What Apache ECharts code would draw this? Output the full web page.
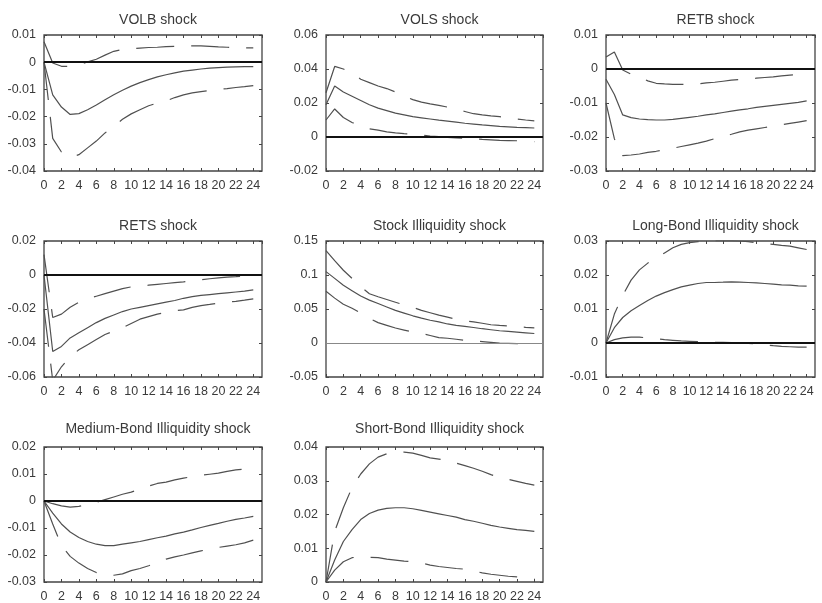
<!DOCTYPE html>
<html>
<head>
<meta charset="utf-8">
<script src="https://cdn.jsdelivr.net/npm/echarts@6/dist/echarts.min.js"></script>
<style>
  html, body { margin: 0; padding: 0; background: #fff; }
  #chart { width: 822px; height: 603px; }
</style>
</head>
<body>
<div id="chart"></div>
<script>
// Impulse responses over 24 periods: point estimate (mid) with lower/upper bands.
const horizons = [0,1,2,3,4,5,6,7,8,9,10,11,12,13,14,15,16,17,18,19,20,21,22,23,24];

const panelTitles = [
  'VOLB shock', 'VOLS shock', 'RETB shock',
  'RETS shock', 'Stock Illiquidity shock', 'Long-Bond Illiquidity shock',
  'Medium-Bond Illiquidity shock', 'Short-Bond Illiquidity shock'
];

// VOLB shock
const volbMid = [0, -0.012, -0.0165, -0.0192, -0.0189, -0.0175, -0.0157, -0.0138, -0.012, -0.0103, -0.0088, -0.0075, -0.0064, -0.0054, -0.0046, -0.0039, -0.0033, -0.0029, -0.0025, -0.0022, -0.002, -0.0018, -0.0017, -0.0016, -0.0016];
const volbHi  = [0.0075, -0.0003, -0.0015, -0.0015, -0.0009, 0.0001, 0.0011, 0.0026, 0.004, 0.0047, 0.005, 0.0052, 0.0054, 0.0055, 0.0057, 0.0058, 0.0059, 0.006, 0.006, 0.0058, 0.0056, 0.0055, 0.0054, 0.0053, 0.0053];
const volbLo  = [0, -0.028, -0.033, -0.035, -0.034, -0.0315, -0.029, -0.026, -0.0235, -0.021, -0.019, -0.0175, -0.016, -0.015, -0.0142, -0.013, -0.012, -0.0113, -0.0108, -0.0104, -0.010, -0.0097, -0.0093, -0.009, -0.0086];

// VOLS shock
const volsMid = [0.019, 0.030, 0.0265, 0.024, 0.0215, 0.019, 0.017, 0.0155, 0.014, 0.013, 0.012, 0.0113, 0.0106, 0.0099, 0.0093, 0.0087, 0.0081, 0.0076, 0.0071, 0.0067, 0.0063, 0.006, 0.0057, 0.0055, 0.0053];
const volsHi  = [0.026, 0.0415, 0.040, 0.0375, 0.034, 0.032, 0.030, 0.0285, 0.0265, 0.024, 0.022, 0.0205, 0.0195, 0.0186, 0.0176, 0.0163, 0.015, 0.0137, 0.013, 0.0124, 0.012, 0.0113, 0.0106, 0.010, 0.0095];
const volsLo  = [0.010, 0.0165, 0.0115, 0.0085, 0.0065, 0.0048, 0.004, 0.003, 0.0024, 0.002, 0.0017, 0.0012, 0.0006, 0.0002, -0.0002, -0.0005, -0.0007, -0.001, -0.0014, -0.0017, -0.002, -0.0021, -0.0022, -0.0025, -0.0027];

// RETB shock
const retbMid = [-0.003, -0.0075, -0.0135, -0.0143, -0.0147, -0.0149, -0.015, -0.015, -0.0148, -0.0145, -0.0142, -0.0139, -0.0135, -0.0132, -0.0128, -0.0124, -0.012, -0.0117, -0.0113, -0.011, -0.0107, -0.0104, -0.0101, -0.0098, -0.0094];
const retbHi  = [0.0035, 0.005, -0.0003, -0.0015, -0.0024, -0.0035, -0.0042, -0.0044, -0.0045, -0.0045, -0.0045, -0.0044, -0.0041, -0.0039, -0.0036, -0.0033, -0.0031, -0.0029, -0.0027, -0.0025, -0.0023, -0.002, -0.0018, -0.0016, -0.0012];
const retbLo  = [-0.010, -0.0205, -0.0255, -0.0253, -0.025, -0.0245, -0.0242, -0.0238, -0.0233, -0.0228, -0.0223, -0.0218, -0.0212, -0.0205, -0.0198, -0.0192, -0.0185, -0.018, -0.0176, -0.0172, -0.0168, -0.0164, -0.016, -0.0156, -0.0152];

// RETS shock
const retsMid = [0, -0.045, -0.042, -0.037, -0.034, -0.031, -0.028, -0.0255, -0.0235, -0.0215, -0.020, -0.019, -0.018, -0.017, -0.016, -0.015, -0.0137, -0.0127, -0.012, -0.0115, -0.011, -0.0105, -0.010, -0.0095, -0.0088];
const retsHi  = [0.012, -0.025, -0.023, -0.019, -0.016, -0.014, -0.0125, -0.011, -0.0095, -0.008, -0.007, -0.0065, -0.006, -0.0055, -0.005, -0.0045, -0.004, -0.0034, -0.0028, -0.0022, -0.0017, -0.0013, -0.001, -0.0006, -0.0003];
const retsLo  = [-0.02, -0.062, -0.054, -0.048, -0.044, -0.041, -0.038, -0.035, -0.033, -0.031, -0.0285, -0.026, -0.0245, -0.023, -0.022, -0.021, -0.0205, -0.019, -0.018, -0.0173, -0.0165, -0.016, -0.0155, -0.0148, -0.014];

// Stock illiquidity shock
const stockMid = [0.105, 0.095, 0.085, 0.077, 0.069, 0.063, 0.058, 0.053, 0.048, 0.044, 0.040, 0.0365, 0.0335, 0.031, 0.028, 0.026, 0.0245, 0.0228, 0.021, 0.0195, 0.018, 0.017, 0.016, 0.015, 0.014];
const stockHi  = [0.136, 0.121, 0.107, 0.095, 0.083, 0.0725, 0.068, 0.064, 0.060, 0.056, 0.0525, 0.048, 0.0445, 0.041, 0.038, 0.035, 0.0325, 0.031, 0.029, 0.0268, 0.0258, 0.025, 0.024, 0.023, 0.0222];
const stockLo  = [0.076, 0.066, 0.057, 0.051, 0.044, 0.036, 0.030, 0.026, 0.022, 0.019, 0.016, 0.014, 0.011, 0.008, 0.007, 0.0055, 0.004, 0.003, 0.002, 0.001, 0.0, -0.0005, -0.001, -0.0015, -0.002];

// Long-bond illiquidity shock
const longMid = [0, 0.0045, 0.0075, 0.0095, 0.011, 0.0125, 0.0138, 0.0148, 0.0157, 0.0165, 0.017, 0.0175, 0.0178, 0.0178, 0.0179, 0.018, 0.0179, 0.0178, 0.0177, 0.0175, 0.0173, 0.0171, 0.017, 0.0168, 0.0167];
const longHi  = [0, 0.0085, 0.014, 0.0185, 0.0215, 0.0235, 0.025, 0.0265, 0.028, 0.029, 0.0295, 0.0298, 0.030, 0.0301, 0.0301, 0.0301, 0.030, 0.0298, 0.0295, 0.0292, 0.029, 0.0287, 0.0285, 0.028, 0.0275];
const longLo  = [0, 0.001, 0.0015, 0.0017, 0.0017, 0.0015, 0.0013, 0.001, 0.0008, 0.0006, 0.0005, 0.0004, 0.0003, 0.0002, 0.0002, 0.0001, 0, -0.0001, -0.0002, -0.0005, -0.0008, -0.001, -0.0011, -0.0012, -0.0012];

// Medium-bond illiquidity shock
const mediumMid = [0, -0.0045, -0.0085, -0.0115, -0.0135, -0.015, -0.016, -0.0165, -0.0165, -0.016, -0.0155, -0.015, -0.0143, -0.0136, -0.013, -0.0122, -0.0115, -0.0107, -0.0098, -0.009, -0.0083, -0.0075, -0.0068, -0.0063, -0.0057];
const mediumHi  = [0, -0.001, -0.0018, -0.0023, -0.002, -0.0013, -0.0005, 0.0005, 0.0015, 0.0025, 0.0033, 0.0043, 0.0055, 0.0065, 0.007, 0.0078, 0.0085, 0.009, 0.0095, 0.0099, 0.0103, 0.011, 0.0115, 0.0118, 0.012];
const mediumLo  = [0, -0.0085, -0.0165, -0.0205, -0.023, -0.025, -0.0265, -0.0272, -0.0275, -0.027, -0.0258, -0.025, -0.024, -0.0228, -0.0215, -0.0207, -0.02, -0.0192, -0.0185, -0.0178, -0.0172, -0.0167, -0.0162, -0.0155, -0.0145];

// Short-bond illiquidity shock
const shortMid = [0, 0.0065, 0.012, 0.0155, 0.0185, 0.0203, 0.0213, 0.0218, 0.022, 0.022, 0.0217, 0.0212, 0.0207, 0.0202, 0.0197, 0.0192, 0.0185, 0.018, 0.0174, 0.0168, 0.0163, 0.0159, 0.0155, 0.0153, 0.015];
const shortHi  = [0, 0.015, 0.022, 0.028, 0.032, 0.035, 0.037, 0.038, 0.0383, 0.0385, 0.0382, 0.0375, 0.0368, 0.0364, 0.036, 0.0352, 0.0345, 0.0337, 0.0328, 0.0318, 0.031, 0.0304, 0.0298, 0.0292, 0.0287];
const shortLo  = [0, 0.0035, 0.006, 0.0072, 0.0075, 0.0073, 0.0072, 0.0068, 0.0065, 0.0062, 0.006, 0.0056, 0.005, 0.0046, 0.0043, 0.004, 0.0038, 0.0033, 0.0027, 0.0023, 0.002, 0.0017, 0.0015, 0.0012, 0.001];

// y-axis ranges per panel: [min, max, interval]
const yRanges = [
  [-0.04, 0.01, 0.01], [-0.02, 0.06, 0.02], [-0.03, 0.01, 0.01],
  [-0.06, 0.02, 0.02], [-0.05, 0.15, 0.05], [-0.01, 0.03, 0.01],
  [-0.03, 0.02, 0.01], [0, 0.04, 0.01]
];

const panelData = [
  [volbLo, volbMid, volbHi],
  [volsLo, volsMid, volsHi],
  [retbLo, retbMid, retbHi],
  [retsLo, retsMid, retsHi],
  [stockLo, stockMid, stockHi],
  [longLo, longMid, longHi],
  [mediumLo, mediumMid, mediumHi],
  [shortLo, shortMid, shortHi]
];

// Plot-box geometry
const colLeft = [44, 326, 606];
const colWidth = [218, 217, 209];
const rowTop = [35, 241, 447];
const boxHeight = 136;
const titleGap = [20, 20, 23];

const FONT = 'Liberation Sans, Arial, sans-serif';
const TEXT = '#3a3a3a';
const AXIS = '#444';
const CURVE = '#505050';

const fmt = v => String(parseFloat(Number(v).toFixed(4)));

// Zero reference line style per panel (thin grey on the illiquidity panel,
// none where zero is the bottom edge of the box).
function zeroLine(i) {
  if (i === 7) return null;
  return i === 4
    ? { color: '#888', width: 1, type: 'solid' }
    : { color: '#111', width: 1.8, type: 'solid' };
}

const grids = [], xAxes = [], yAxes = [], series = [], titles = [];

panelData.forEach((bands, i) => {
  const r = Math.floor(i / 3), c = i % 3;
  grids.push({
    left: colLeft[c], top: rowTop[r], width: colWidth[c], height: boxHeight,
    show: true, borderColor: AXIS, borderWidth: 1.3, backgroundColor: '#fff'
  });
  titles.push({
    text: panelTitles[i],
    left: colLeft[c] + colWidth[c] / 2,
    top: rowTop[r] - titleGap[r],
    textAlign: 'center', textVerticalAlign: 'middle',
    textStyle: { fontFamily: FONT, fontSize: 14, fontWeight: 'normal', color: TEXT }
  });
  const xBase = {
    type: 'value', gridIndex: i, min: 0, max: 25, interval: 2,
    splitLine: { show: false },
    axisLine: { show: false, onZero: false },
    axisTick: { show: true, inside: true, length: 3, lineStyle: { color: AXIS, width: 1 } }
  };
  xAxes.push(Object.assign({}, xBase, {
    position: 'bottom',
    axisLabel: { show: true, showMaxLabel: false, margin: 8, fontFamily: FONT, fontSize: 12.5, color: TEXT, formatter: fmt }
  }));
  xAxes.push(Object.assign({}, xBase, {
    position: 'top', axisLabel: { show: false }
  }));
  const [ymin, ymax, yint] = yRanges[i];
  const yBase = {
    type: 'value', gridIndex: i, min: ymin, max: ymax, interval: yint,
    splitLine: { show: false },
    axisLine: { show: false, onZero: false },
    axisTick: { show: true, inside: true, length: 3, lineStyle: { color: AXIS, width: 1 } }
  };
  yAxes.push(Object.assign({}, yBase, {
    position: 'left',
    axisLabel: { show: true, margin: 8, fontFamily: FONT, fontSize: 12.5, color: TEXT, formatter: fmt }
  }));
  yAxes.push(Object.assign({}, yBase, {
    position: 'right', axisLabel: { show: false }
  }));

  const [lo, mid, hi] = bands;
  const pts = arr => horizons.map((h, k) => [h, arr[k]]);
  const dashed = { color: CURVE, width: 1.2, type: [38, 17] };
  series.push({
    type: 'line', xAxisIndex: 2 * i, yAxisIndex: 2 * i, data: pts(lo),
    showSymbol: false, symbol: 'none', lineStyle: dashed, z: 2
  });
  series.push({
    type: 'line', xAxisIndex: 2 * i, yAxisIndex: 2 * i, data: pts(hi),
    showSymbol: false, symbol: 'none', lineStyle: dashed, z: 2
  });
  const midSeries = {
    type: 'line', xAxisIndex: 2 * i, yAxisIndex: 2 * i, data: pts(mid),
    showSymbol: false, symbol: 'none', lineStyle: { color: CURVE, width: 1.2 }, z: 3
  };
  const zl = zeroLine(i);
  if (zl) {
    midSeries.markLine = {
      silent: true, symbol: 'none', label: { show: false }, animation: false,
      lineStyle: zl, data: [{ yAxis: 0 }]
    };
  }
  series.push(midSeries);
});

const chart = echarts.init(document.getElementById('chart'), null, { renderer: 'canvas' });
chart.setOption({
  animation: false,
  backgroundColor: '#fff',
  title: titles,
  grid: grids,
  xAxis: xAxes,
  yAxis: yAxes,
  series: series
});
</script>
</body>
</html>
